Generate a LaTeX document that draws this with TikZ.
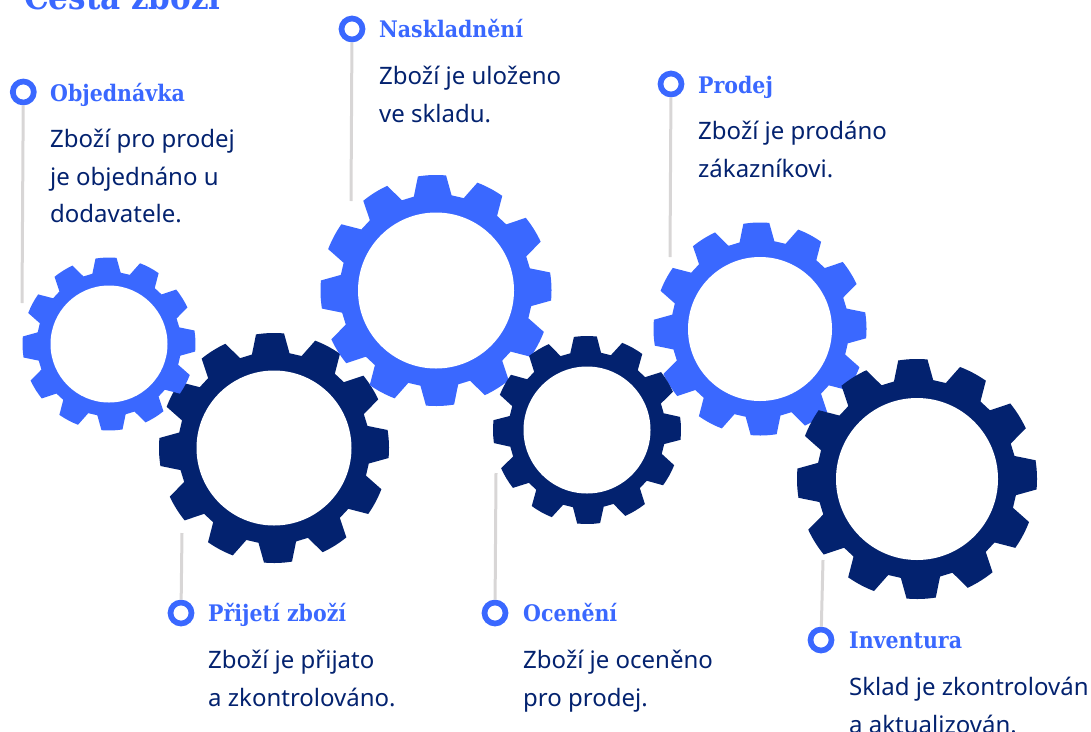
\documentclass[tikz,border=0pt]{standalone}
\usepackage{fontspec}
\setmainfont{Noto Sans}
\newfontfamily\headfont{DejaVu Serif Condensed}
\usetikzlibrary{positioning}
\definecolor{gearblue}{HTML}{3A68FF}
\definecolor{gearnavy}{HTML}{03226F}
\definecolor{leadgray}{HTML}{D8D6D6}
\tikzset{
    ring/.style={circle, draw=gearblue, line width=5.7pt, fill=white, minimum size=21pt, inner sep=0pt},
    leader/.style={leadgray, line width=3pt},
    headlabel/.style={anchor=base west, inner sep=0pt, text=gearblue, font=\headfont\bfseries\fontsize{22.8}{26}\selectfont},
    bodylabel/.style={anchor=north west, inner sep=0pt, align=left, text=gearnavy, font=\fontsize{24}{37.5}\selectfont}
}
% center x, center y, outer radius, hole radius, rotation, colour
\newcommand{\gearwheel}[6]{
    \fill[#6, shift={(#1,#2)}, rotate=#5]
        ({90-11.3}:0.835*#3pt)
        \foreach \a in {90,120,...,420} {
            -- ({\a-11.3}:0.835*#3pt) -- ({\a-7}:#3pt) arc[start angle=\a-7, end angle=\a+7, radius=#3pt] -- ({\a+11.3}:0.835*#3pt)
        } -- cycle;
    \fill[white] (#1,#2) circle (#4pt);
}
\begin{document}
\begin{tikzpicture}[x=1pt, y=-1pt]
    \useasboundingbox (0,0) rectangle (1091,731);
    \clip (0,0) rectangle (1091,731);

    % Title, cut by the top edge
    \node[anchor=base west, inner sep=0pt, text=gearblue, font=\headfont\bfseries\fontsize{34.5}{40}\selectfont] (title) at (24,9) {Cesta zboží};

    % Gears
    \gearwheel{274}{448}{115}{77.5}{2}{gearnavy}
    \gearwheel{109}{344}{86.5}{58.5}{2}{gearblue}
    \gearwheel{436}{290.5}{115.5}{78}{2}{gearblue}
    \gearwheel{760}{329}{106.5}{72}{2}{gearblue}
    \gearwheel{587}{430}{94}{63.5}{1}{gearnavy}
    \gearwheel{917}{479}{120}{81}{2}{gearnavy}

    % Markers
    \node[ring] (markObjednavka) at (23.3,92) {};
    \node[ring] (markNaskladneni) at (352,29) {};
    \node[ring] (markProdej) at (671,84) {};
    \node[ring] (markPrijeti) at (181,613) {};
    \node[ring] (markOceneni) at (495,613) {};
    \node[ring] (markInventura) at (821,640) {};

    % Free ends of the leaders
    \coordinate (endObjednavka) at (22,303);
    \coordinate (endNaskladneni) at (351,201);
    \coordinate (endProdej) at (670,257);
    \coordinate (endPrijeti) at (182,533);
    \coordinate (endOceneni) at (496,473);
    \coordinate (endInventura) at (823,560);

    % Leaders
    \draw[leader] (markObjednavka) -- (endObjednavka);
    \draw[leader] (markNaskladneni) -- (endNaskladneni);
    \draw[leader] (markProdej) -- (endProdej);
    \draw[leader] (markPrijeti) -- (endPrijeti);
    \draw[leader] (markOceneni) -- (endOceneni);
    \draw[leader] (markInventura) -- (endInventura);

    % Headings
    \node[headlabel] (headObjednavka) at (50,101) {Objednávka};
    \node[headlabel] (headNaskladneni) at (379,37) {Naskladnění};
    \node[headlabel] (headProdej) at (698,93) {Prodej};
    \node[headlabel] (headPrijeti) at (208,621) {Přijetí zboží};
    \node[headlabel] (headOceneni) at (523,621) {Ocenění};
    \node[headlabel] (headInventura) at (849,648) {Inventura};

    % Descriptions
    \node[bodylabel] (bodyObjednavka) at (50,129) {Zboží pro prodej\\je objednáno u\\dodavatele.};
    \node[bodylabel] (bodyNaskladneni) at (379,66) {Zboží je uloženo\\ve skladu.};
    \node[bodylabel] (bodyProdej) at (698,121) {Zboží je prodáno\\zákazníkovi.};
    \node[bodylabel] (bodyPrijeti) at (208,650) {Zboží je přijato\\a zkontrolováno.};
    \node[bodylabel] (bodyOceneni) at (523,650) {Zboží je oceněno\\pro prodej.};
    \node[bodylabel] (bodyInventura) at (849,677) {Sklad je zkontrolován\\a aktualizován.};
\end{tikzpicture}
\end{document}
